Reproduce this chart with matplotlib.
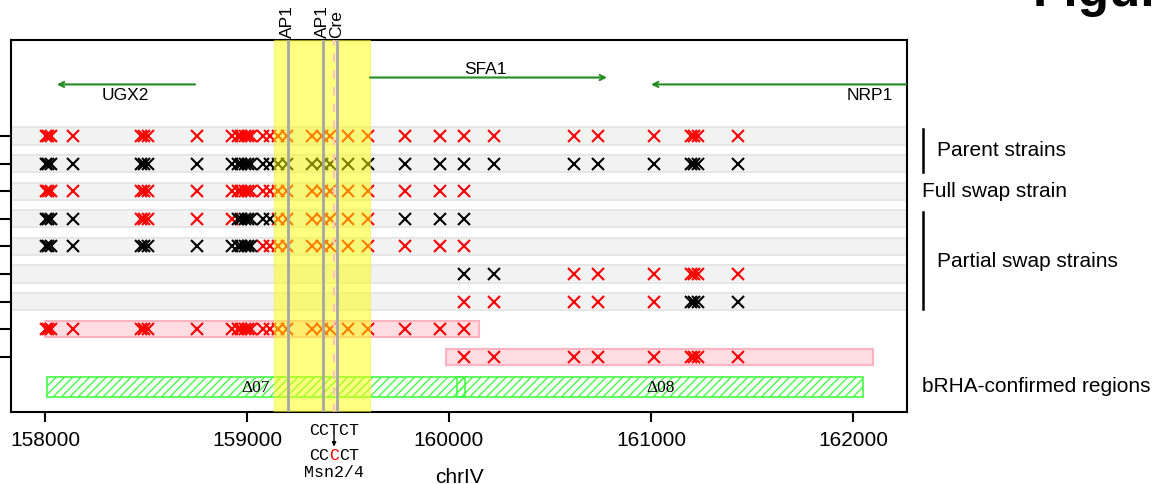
import numpy as np
import matplotlib as mpl
mpl.use('Agg')
import matplotlib.pyplot as plt
from matplotlib.patches import Rectangle
import matplotlib.transforms as mtransforms

plt.rcParams['font.family'] = ['Liberation Sans', 'DejaVu Sans']
plt.rcParams['hatch.linewidth'] = 1.0

# SNP positions on chrIV
snp_pos = [158005, 158015, 158030, 158137, 158475, 158492, 158512, 158751,
           158926, 158955, 158972, 158988, 159003, 159020, 159080, 159115,
           159155, 159198, 159322, 159371, 159411, 159500, 159600, 159782,
           159955, 160074, 160223, 160619, 160738, 161015, 161200, 161215,
           161232, 161431]

# genotype per strain row: r = parent 1 allele, k = parent 2 allele, . = not shown
genotypes = [
    "rrrrrrrrrrrrrrrrrrrrrrrrrrrrrrrrrr",
    "kkkkkkkkkkkkkkkkkkkkkkkkkkkkkkkkkk",
    "rrrrrrrrrrrrrrrrrrrrrrrrrr........",
    "kkkkrrrrrkkkkkkkrrrrrrrkkk........",
    "kkkkkkkkkkkkkkrrrrrrrrrrrr........",
    ".........................kkrrrrrrr",
    ".........................rrrrrkkkk",
    "rrrrrrrrrrrrrrrrrrrrrrrrrr........",
    ".........................rrrrrrrrr",
]
grey_rows = [0, 1, 2, 3, 4, 5, 6]
pink_spans = [(158000, 160149), (159985, 162099)]
pink_rows = [7, 8]

# bRHA confirmed regions
brha_names = ["\u039407", "\u039408"]
brha_spans = [(158010, 160079), (160040, 162050)]

# genes
genes = ["UGX2", "SFA1", "NRP1"]
gene_from = [158743, 159609, 162400]
gene_to = [158059, 160782, 161000]
gene_y = [-1.87, -2.12, -1.87]
gene_lab_x = [158400, 160178, 162084]
gene_lab_y = [-1.5, -2.45, -1.5]

# promoter region and motifs
region = (159134, 159609)
motif_names = ["AP1", "AP1", "Cre"]
motif_pos = [159201, 159374, 159444]
msn_pos = 159431

fig = plt.figure(figsize=(11.59, 4.85), dpi=100)
ax = fig.add_axes([11/1159, 1 - 413/485, 896/1159, 372/485])

for r in grey_rows:
    ax.axhspan(r - 0.31, r + 0.31, facecolor='#f2f2f2', edgecolor='#e3e3e3', lw=1.2, zorder=1)
for (a, b), r in zip(pink_spans, pink_rows):
    ax.add_patch(Rectangle((a, r - 0.3), b - a, 0.6, facecolor='#ffdde2',
                           edgecolor='#ffb3c0', lw=1.5, zorder=1))

for (a, b), name in zip(brha_spans, brha_names):
    ax.add_patch(Rectangle((a, 9.09 - 0.36), b - a, 0.72, fill=False, hatch='////',
                           edgecolor='#44ff44', lw=1.2, zorder=1))
    ax.text((a + b) / 2, 9.09, name, ha='center', va='center', fontsize=12.5,
            family='Liberation Serif', zorder=2)

cmap = {'r': 'red', 'k': 'black'}
for r, g in enumerate(genotypes):
    for code in 'rk':
        xs = [p for p, c in zip(snp_pos, g) if c == code]
        ax.plot(xs, [r] * len(xs), linestyle='none', marker='x', ms=8, mew=1.5,
                color=cmap[code], zorder=3)

ax.axvspan(region[0], region[1], facecolor='yellow', edgecolor='#eeee44', alpha=0.5, lw=1, zorder=4)
for p in motif_pos:
    ax.axvline(p, color='#a6a6a6', lw=2, zorder=5)
ax.axvline(msn_pos, color='#ffc0cb', lw=1.5, ls=(0, (4, 4)), zorder=5)

for f, t, y in zip(gene_from, gene_to, gene_y):
    a = ax.annotate('', xy=(t, y), xytext=(f, y),
                    arrowprops=dict(arrowstyle='->', color='#228b22', lw=1.5,
                                    shrinkA=0, shrinkB=0, mutation_scale=9),
                    annotation_clip=False, zorder=6)
    a.arrow_patch.set_clip_box(ax.bbox)
    a.arrow_patch.set_clip_on(True)
for name, x, y in zip(genes, gene_lab_x, gene_lab_y):
    ax.text(x, y, name, ha='center', va='center', fontsize=12.5, zorder=6)

tr = mtransforms.blended_transform_factory(ax.transData, ax.transAxes)
for name, p in zip(motif_names, motif_pos):
    ax.text(p, 1.008, name, rotation=90, ha='center', va='bottom',
            fontsize=12.5, transform=tr, clip_on=False)

# Msn2/4 site change
mono = dict(fontsize=12, family='Liberation Mono', va='center', clip_on=False)
half = 0.3 * 12
ax.text(msn_pos, -0.047, "CCTCT", ha='center', transform=tr, **mono)
ax.annotate('', xy=(msn_pos, -0.093), xytext=(msn_pos, -0.063), xycoords=tr,
            arrowprops=dict(arrowstyle='-|>', color='black', lw=1, mutation_scale=6,
                            shrinkA=0, shrinkB=0), annotation_clip=False)
ax.text(msn_pos, -0.113, "CC", ha='right',
        transform=mtransforms.offset_copy(tr, fig=fig, x=-half, units='points'), **mono)
ax.text(msn_pos, -0.113, "C", ha='center', color='red', transform=tr, **mono)
ax.text(msn_pos, -0.113, "CT", ha='left',
        transform=mtransforms.offset_copy(tr, fig=fig, x=half, units='points'), **mono)
ax.text(msn_pos, -0.16, "Msn2/4", ha='center', transform=tr, **mono)

ax.set_xlim(157832, 162267)
ax.set_ylim(10.0, -3.48)
ax.set_xticks([158000, 159000, 160000, 161000, 162000])
ax.set_xticklabels(['158000', '159000', '160000', '161000', '162000'], fontsize=15)
ax.set_yticks(range(9))
ax.set_yticklabels([''] * 9)
ax.tick_params(axis='x', length=7, width=1.5, pad=6)
ax.tick_params(axis='y', length=11, width=1.5)
ax.set_xlabel('chrIV', fontsize=15, labelpad=13)
for s in ax.spines.values():
    s.set_linewidth(1.5)

# right side group labels
tra = mtransforms.blended_transform_factory(ax.transAxes, ax.transData)
ax.plot([1.018, 1.018], [-0.27, 1.29], color='black', lw=1.8, transform=tra, clip_on=False)
ax.plot([1.018, 1.018], [2.74, 6.26], color='black', lw=1.8, transform=tra, clip_on=False)
ax.text(1.0335, 0.5, "Parent strains", fontsize=15, va='center', transform=tra)
ax.text(1.017, 1.98, "Full swap strain", fontsize=15, va='center', transform=tra)
ax.text(1.0335, 4.5, "Partial swap strains", fontsize=15, va='center', transform=tra)
ax.text(1.017, 9.05, "bRHA-confirmed regions", fontsize=15, va='center', transform=tra)

fig.text(1033/1159, 1 - 6/485, "Figure", fontsize=37, fontweight='bold', va='baseline')

fig.savefig('out.png', dpi=100)
